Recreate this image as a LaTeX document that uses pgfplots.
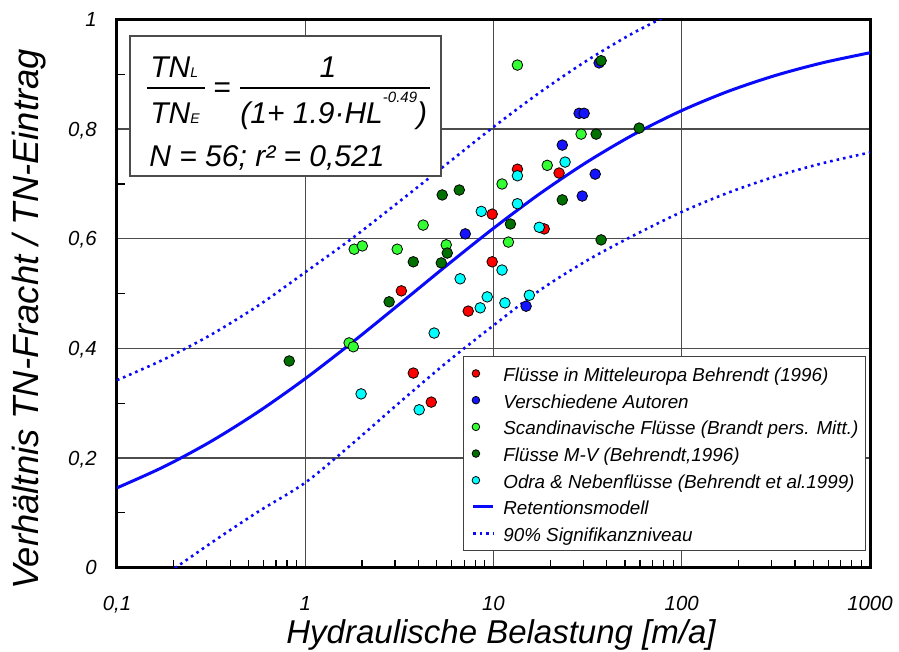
\documentclass[border=0pt]{standalone}
\usepackage{fontspec}
\setmainfont{Liberation Sans}
\usepackage{pgfplots}
\pgfplotsset{compat=1.18}

\definecolor{cRed}{RGB}{255,0,0}
\definecolor{cBlue}{RGB}{20,20,255}
\definecolor{cLight}{RGB}{51,255,51}
\definecolor{cDark}{RGB}{0,112,0}
\definecolor{cCyan}{RGB}{0,255,255}
\definecolor{cLine}{RGB}{10,10,250}

\newcommand\fs{\fontsize{15}{17}\selectfont\itshape}

\pgfplotsset{
  pts/.style={only marks, mark=*, mark size=2.65pt,
    mark options={draw=black, line width=0.4pt, fill=#1},
    legend image code/.code={\path (0pt,0pt) (15pt,0pt);
      \draw[##1, mark size=1.9pt] plot coordinates {(3pt,0pt)};}},
  lin/.style={legend image code/.code={\path (0pt,0pt) (15pt,0pt);
      \draw[##1] (1.5pt,0pt) -- (11.5pt,0pt);}},
}

\begin{document}
\begin{tikzpicture}
\begin{axis}[
  scale only axis, width=376.5pt, height=274pt,
  xmode=log, xmin=0.1, xmax=1000, ymin=0, ymax=1,
  axis line style={line width=1.5pt},
  xtick={0.1,1,10,100,1000}, xticklabels={{0,1},1,10,100,1000},
  minor xtick={0.2,0.3,0.4,0.5,0.6,0.7,0.8,0.9,2,3,4,5,6,7,8,9,20,30,40,50,60,70,80,90,200,300,400,500,600,700,800,900},
  ytick={0,0.2,0.4,0.6,0.8,1}, yticklabels={0,{0,2},{0,4},{0,6},{0,8},1},
  minor ytick={0.1,0.3,0.5,0.7,0.9},
  tick pos=left, tick align=inside,
  major tick length=0pt, minor tick length=4pt,
  minor tick style={black, line width=0.6pt},
  grid=major, major grid style={black!70, line width=0.7pt},
  tick label style={font=\fontsize{10.2}{12}\selectfont\itshape},
  xticklabel style={anchor=base, inner sep=0pt, yshift=-21.5pt},
  yticklabel style={anchor=base east, inner sep=0pt, xshift=-10pt, yshift=-3.6pt},
  xlabel={Hydraulische Belastung [m/a]},
  ylabel={Verhältnis TN-Fracht / TN-Eintrag},
  xlabel style={font=\fontsize{16.5}{18}\selectfont\itshape,
    at={([yshift=-37.8pt]rel axis cs:0.51,0)}, anchor=base},
  ylabel style={font=\fontsize{18.2}{20}\selectfont\itshape,
    at={([xshift=-39pt]rel axis cs:0,0.4526)}, anchor=base},
  legend style={at={(rel axis cs:0.4595,0.386)}, anchor=north west,
    draw=black!75, fill=white, inner xsep=2.5pt, inner ysep=3pt,
    font=\fontsize{9.4}{11}\selectfont\itshape, row sep=2.35pt,
    nodes={inner sep=1pt, text height=8.5pt, text depth=0.5pt}},
  legend cell align=left,
]
% Flüsse in Mitteleuropa
\addplot[pts=cRed] coordinates {
(3.24,0.505) (3.75,0.355) (4.67,0.302) (7.34,0.468) (9.84,0.645)
(9.84,0.558) (13.4,0.727) (18.6,0.618) (22.3,0.720)};
\addlegendentry{Flüsse in Mitteleuropa Behrendt (1996)}
% Verschiedene Autoren
\addplot[pts=cBlue] coordinates {
(7.08,0.609) (14.9,0.477) (23.2,0.771) (28.5,0.829) (30.3,0.829)
(29.6,0.678) (34.7,0.718) (36.4,0.921)};
\addlegendentry{Verschiedene Autoren}
% Scandinavische Flüsse
\addplot[pts=cLight] coordinates {
(1.71,0.410) (1.80,0.403) (1.82,0.581) (2.01,0.587) (3.08,0.581)
(4.23,0.625) (5.61,0.589) (11.1,0.700) (12.0,0.594) (13.4,0.917)
(19.3,0.734) (29.2,0.791)};
\addlegendentry{Scandinavische Flüsse (Brandt pers. Mitt.)}
% Flüsse M-V
\addplot[pts=cDark] coordinates {
(0.822,0.377) (2.79,0.485) (3.75,0.558) (5.28,0.556) (5.68,0.574)
(5.34,0.680) (6.58,0.689) (12.3,0.627) (23.2,0.671) (35.1,0.791)
(37.3,0.598) (37.3,0.925) (59.4,0.802)};
\addlegendentry{Flüsse M-V (Behrendt,1996)}
% Odra & Nebenflüsse
\addplot[pts=cCyan] coordinates {
(1.98,0.317) (4.03,0.288) (4.84,0.428) (6.65,0.527) (8.50,0.474)
(9.26,0.494) (11.5,0.483) (15.5,0.497) (8.61,0.650) (11.1,0.543)
(13.4,0.715) (13.4,0.664) (17.5,0.621) (24.0,0.740)};
\addlegendentry{Odra \& Nebenflüsse (Behrendt et al.1999)}
% Retentionsmodell
\addplot[lin, cLine, line width=1.5pt, smooth] coordinates {
(0.1,0.1455) (0.1778,0.1842) (0.3162,0.2304) (0.5623,0.2842) (1,0.3448)
(1.778,0.4110) (3.162,0.4806) (5.623,0.5509) (10,0.6192) (17.78,0.6832)
(31.62,0.7408) (56.23,0.7913) (100,0.8340) (177.8,0.8695) (316.2,0.8983)
(562.3,0.9213) (1000,0.9395)};
\addlegendentry{Retentionsmodell}
% 90% band, upper
\addplot[lin, cLine, line width=1.3pt, dash pattern=on 1.3pt off 2pt, smooth] coordinates {
(0.1,0.342) (0.1778,0.380) (0.3162,0.425) (0.5623,0.478) (1,0.539)
(1.778,0.601) (3.162,0.668) (5.623,0.736) (10,0.804) (17.78,0.868)
(31.62,0.926) (56.23,0.977) (100,1.02)};
\addlegendentry{90\% Signifikanzniveau}
% 90% band, lower
\addplot[forget plot, cLine, line width=1.3pt, dash pattern=on 1.3pt off 2pt, smooth] coordinates {
(0.1778,-0.015) (0.3162,0.045) (0.5623,0.102) (1,0.155) (1.778,0.226)
(3.162,0.301) (5.623,0.374) (10,0.442) (17.78,0.507) (31.62,0.561)
(56.23,0.607) (100,0.649) (177.8,0.6845) (316.2,0.714) (562.3,0.738)
(1000,0.7575)};
\coordinate (bl) at (rel axis cs:0,0);
\coordinate (tr) at (rel axis cs:1,1);
\coordinate (fb) at (rel axis cs:0.01726,0.970);
\end{axis}

% formula box
\begin{scope}[shift={(fb)}]
\draw[black!70, fill=white, line width=0.6pt] (0,0) rectangle (155.5pt,-70pt);
\node[anchor=base west, inner sep=0pt] at (10pt,-20.5pt) {\fs TN{\fontsize{7}{8}\selectfont L}};
\node[anchor=base west, inner sep=0pt] at (10pt,-43.5pt) {\fs TN{\fontsize{7}{8}\selectfont E}};
\draw[line width=0.7pt] (8.5pt,-26pt) -- (37.5pt,-26pt);
\node[anchor=base, inner sep=0pt] at (46pt,-30.8pt) {\fs =};
\draw[line width=0.7pt] (55pt,-26pt) -- (150pt,-26pt);
\node[anchor=base, inner sep=0pt] at (99pt,-20.5pt) {\fs 1};
\node[anchor=base west, inner sep=0pt] at (55pt,-43.5pt)
  {\fs (1+ 1.9·HL\raisebox{10.5pt}{\fontsize{7.5}{8}\selectfont -0.49})};
\node[anchor=base west, inner sep=0pt] at (9.5pt,-65pt) {\fs N = 56; r² = 0,521};
\end{scope}

\pgfresetboundingbox
\path ([shift={(-58.5pt,-41.75pt)}]bl) rectangle ([shift={(14.5pt,9.8pt)}]tr);
\end{tikzpicture}
\end{document}
